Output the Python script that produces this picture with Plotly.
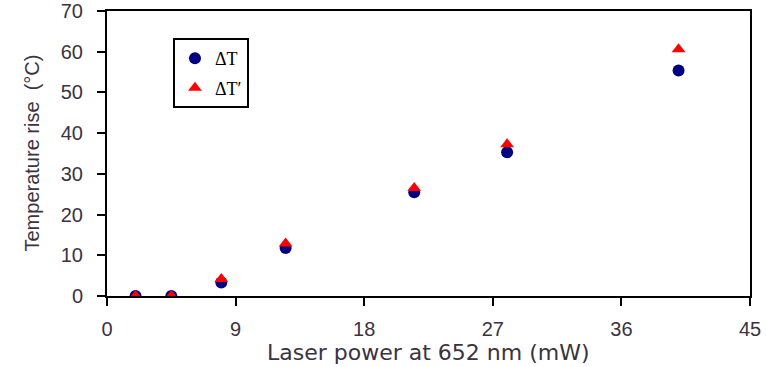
import plotly.graph_objects as go

# Data
laser_power = [2, 4.5, 8, 12.5, 21.5, 28, 40]
delta_T = [0, 0, 3.3, 11.8, 25.5, 35.3, 55.4]
delta_T_prime = [0, 0, 4.2, 12.9, 26.5, 37.3, 60.6]
x_ticks = [0, 9, 18, 27, 36, 45]
y_ticks = [0, 10, 20, 30, 40, 50, 60, 70]

tick_color = "#3a3340"

fig = go.Figure()
fig.add_trace(go.Scatter(
    x=laser_power, y=delta_T, mode="markers", name="ΔT",
    legendgroup="a",
    marker=dict(symbol="circle", size=12, color="#000080"),
))
fig.add_trace(go.Scatter(
    x=laser_power, y=delta_T_prime, mode="markers", name="ΔT′",
    legendgroup="b",
    marker=dict(symbol="triangle-up", size=12, color="#ff0000"),
))

fig.update_layout(
    width=766, height=367,
    margin=dict(l=107, r=16, t=11, b=71, autoexpand=False),
    plot_bgcolor="white", paper_bgcolor="white",
    showlegend=True,
    legend=dict(
        x=0.1026, y=0.905, xanchor="left", yanchor="top",
        bordercolor="black", borderwidth=2, bgcolor="white",
        font=dict(family="Liberation Serif", size=18, color="black"),
        tracegroupgap=3, traceorder="grouped",
    ),
    xaxis=dict(
        range=[0, 45], tickvals=x_ticks, ticktext=[str(v) for v in x_ticks],
        ticks="outside", ticklen=8, tickwidth=2, tickcolor="black",
        ticklabelstandoff=6,
        showline=True, linecolor="black", linewidth=2, mirror=True,
        showgrid=False, zeroline=False, automargin=False,
        tickfont=dict(family="Liberation Sans", size=20, color=tick_color),
    ),
    yaxis=dict(
        range=[0, 70], tickvals=y_ticks, ticktext=[str(v) for v in y_ticks],
        ticks="outside", ticklen=8, tickwidth=2, tickcolor="black",
        ticklabelstandoff=10,
        showline=True, linecolor="black", linewidth=2, mirror=True,
        showgrid=False, zeroline=False, automargin=False,
        tickfont=dict(family="Liberation Sans", size=20, color=tick_color),
    ),
    annotations=[
        dict(text="Laser power at 652 nm (mW)", xref="paper", yref="paper",
             x=0.5, y=-56 / 285, xanchor="center", yanchor="middle",
             showarrow=False,
             font=dict(family="DejaVu Sans", size=22, color=tick_color)),
        dict(text="Temperature rise  (°C)", xref="paper", yref="paper",
             x=-76 / 643, y=0.5, xanchor="center", yanchor="middle",
             textangle=-90, showarrow=False,
             font=dict(family="Liberation Sans", size=20, color=tick_color)),
    ],
)

fig.write_html("out.html", config={"displayModeBar": False},
               post_script="document.body.style.margin='0';")
